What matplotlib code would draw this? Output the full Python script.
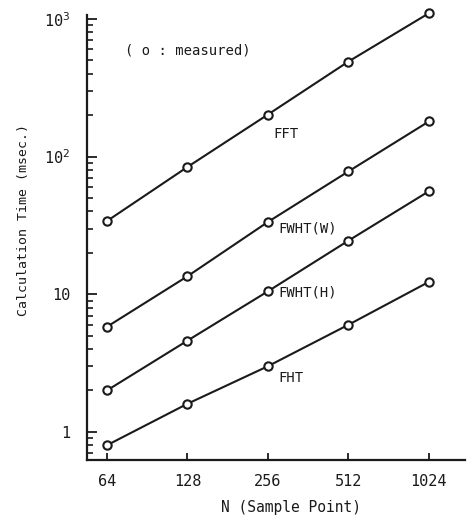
import matplotlib
matplotlib.use("Agg")
import matplotlib.pyplot as plt
from matplotlib.ticker import FixedLocator, FixedFormatter, LogLocator, NullLocator, NullFormatter

N = [64, 128, 256, 512, 1024]
fft = [34, 84, 202, 490, 1100]
fwht_w = [5.8, 13.5, 33.5, 78, 180]
fwht_h = [2.0, 4.6, 10.5, 24.5, 56]
fht = [0.80, 1.6, 3.0, 6.0, 12.3]
series = [("FFT", fft), ("FWHT(W)", fwht_w), ("FWHT(H)", fwht_h), ("FHT", fht)]
# label anchor: (x data, y data)
label_pos = {"FFT": (268, 147), "FWHT(W)": (280, 30), "FWHT(H)": (280, 10.3), "FHT": (280, 2.47)}
ytick_vals = [1, 10, 100, 1000]
ytick_labels = ["1", "10", "10$^2$", "10$^3$"]

plt.rcParams['font.family'] = ['DejaVu Sans Mono']
plt.rcParams['mathtext.fontset'] = 'dejavusans'

fig = plt.figure(figsize=(4.7, 5.16), dpi=100)
ax = fig.add_axes([0.185, 0.1085, 0.804, 0.8625])
c = '#1a1a1a'
for name, vals in series:
    ax.plot(N, vals, '-o', color=c, lw=1.5, ms=6, mfc='white', mec=c, mew=1.5, clip_on=False)
    lx, ly = label_pos[name]
    ax.text(lx, ly, name, fontsize=10, color=c, ha='left', va='center')

ax.set_xscale('log', base=2)
ax.set_yscale('log')
ax.set_xlim(53.9, 1396)
ax.set_ylim(0.625, 1069)

ax.xaxis.set_major_locator(FixedLocator(N))
ax.xaxis.set_major_formatter(FixedFormatter([str(n) for n in N]))
ax.xaxis.set_minor_locator(NullLocator())
ax.yaxis.set_major_locator(FixedLocator(ytick_vals))
ax.yaxis.set_major_formatter(FixedFormatter(ytick_labels))
ax.yaxis.set_minor_locator(LogLocator(base=10, subs=range(2, 10)))
ax.yaxis.set_minor_formatter(NullFormatter())

ax.tick_params(axis='x', direction='in', length=5, width=1.3, pad=10, labelsize=11, colors=c)
ax.tick_params(axis='y', which='major', direction='in', length=7.5, width=1.3, pad=12, labelsize=11, colors=c)
ax.tick_params(axis='y', which='minor', direction='in', length=4.5, width=1.2, colors=c)

for s in ['top', 'right']:
    ax.spines[s].set_visible(False)
for s in ['left', 'bottom']:
    ax.spines[s].set_linewidth(1.6)
    ax.spines[s].set_color(c)

ax.set_xlabel("N (Sample Point)", fontsize=10.5, color=c, labelpad=10)
ax.xaxis.set_label_coords(0.54, -0.09)
ax.set_ylabel("Calculation Time (msec.)", fontsize=9.5, color=c)
ax.yaxis.set_label_coords(-0.15, 0.54)
ax.text(0.1, 0.92, "( o : measured)", transform=ax.transAxes, fontsize=10, color=c, ha='left', va='center')

fig.savefig("out.png", dpi=100, facecolor='white')
